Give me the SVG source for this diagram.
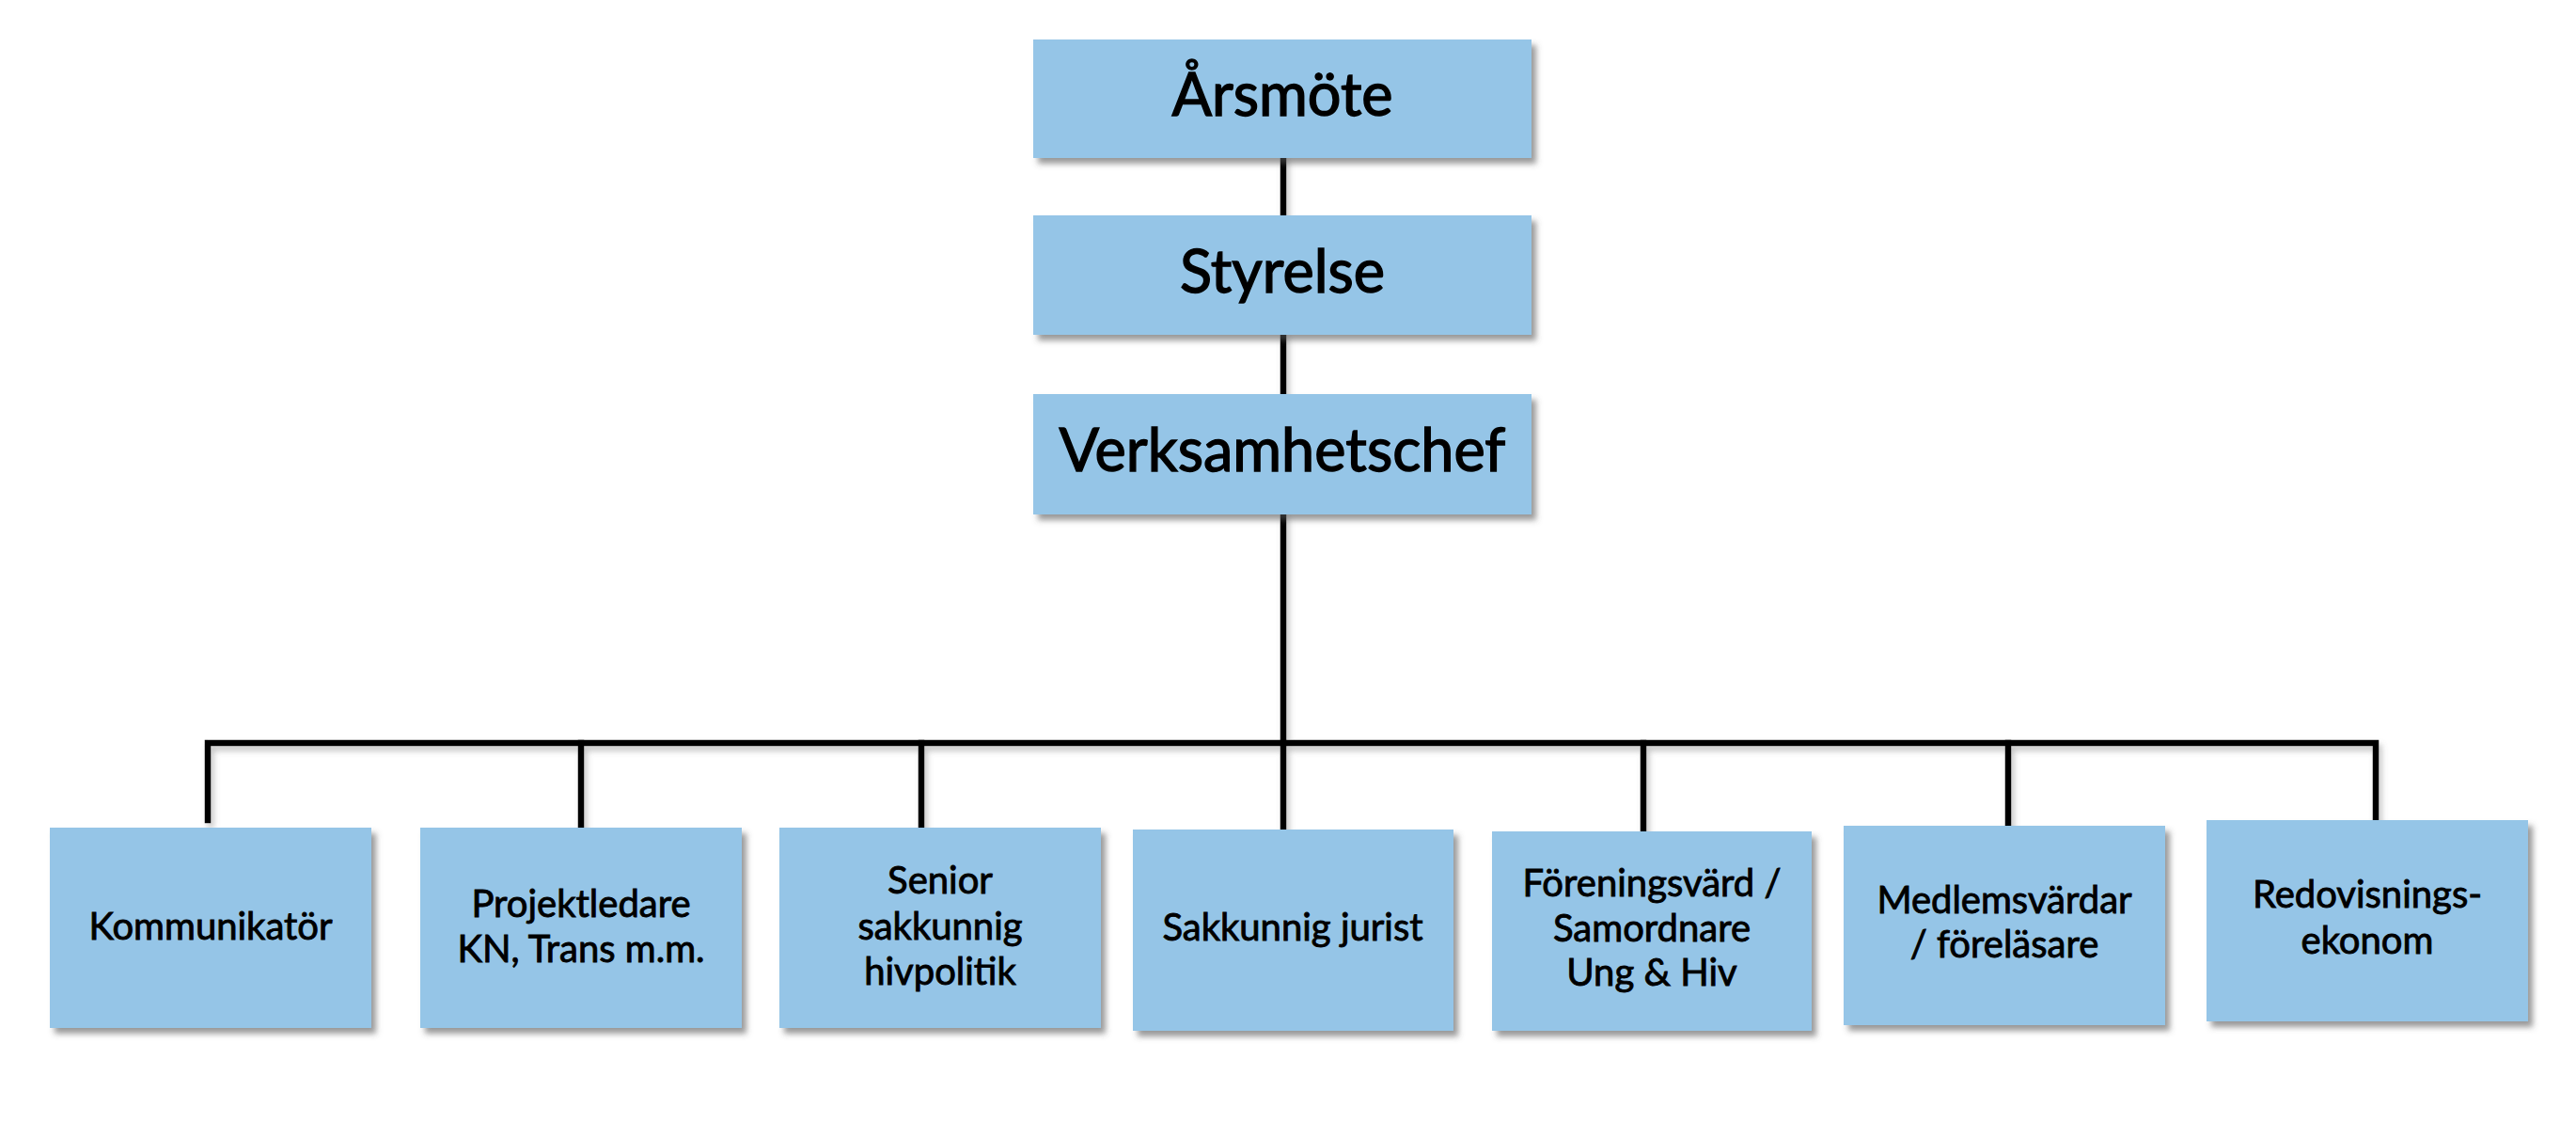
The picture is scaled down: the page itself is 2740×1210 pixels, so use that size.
<svg xmlns="http://www.w3.org/2000/svg" width="2740" height="1210" viewBox="0 0 2740 1210">
<defs>
<filter id="sh" x="-10%" y="-10%" width="130%" height="130%">
<feDropShadow dx="5" dy="6" stdDeviation="3" flood-color="#555" flood-opacity="0.6"/>
</filter>
<filter id="lsh" x="-10%" y="-10%" width="130%" height="130%">
<feDropShadow dx="3" dy="5" stdDeviation="3" flood-color="#777" flood-opacity="0.45"/>
</filter>
</defs>
<style>
.box{fill:#95C5E7;filter:url(#sh);}
.top{font-family:Lato,"Noto Sans",sans-serif;font-size:63px;fill:#000;stroke:#000;stroke-width:1.4px;text-anchor:middle;}
.sub{font-family:Lato,"Noto Sans",sans-serif;font-size:40px;fill:#000;stroke:#000;stroke-width:0.9px;text-anchor:middle;}
.ln{stroke:#000;stroke-width:6.5;fill:none;stroke-linecap:square;}
</style>
<rect width="2740" height="1210" fill="#fff"/>
<g id="connectors" filter="url(#lsh)">
<path class="ln" d="M1365 168V229M1365 356V419M1365 547V790"/>
<path class="ln" d="M221 872V790H2527V872"/>
<path class="ln" d="M618 790V880M980 790V880M1365 790V882M1748 790V884M2136 790V878"/>
</g>
<g id="n-arsmote"><rect class="box" x="1099" y="42" width="530" height="126"/><text class="top" x="1364" y="123">Årsmöte</text></g>
<g id="n-styrelse"><rect class="box" x="1099" y="229" width="530" height="127"/><text class="top" x="1364" y="311">Styrelse</text></g>
<g id="n-verksamhetschef"><rect class="box" x="1099" y="419" width="530" height="128"/><text class="top" x="1364" y="501">Verksamhetschef</text></g>
<g id="n-kommunikator"><rect class="box" x="53" y="880" width="342" height="213"/><text class="sub" x="224" y="999">Kommunikatör</text></g>
<g id="n-projektledare"><rect class="box" x="447" y="880" width="342" height="213"/><text class="sub" x="618" y="975">Projektledare</text><text class="sub" x="618" y="1023">KN, Trans m.m.</text></g>
<g id="n-senior"><rect class="box" x="829" y="880" width="342" height="213"/><text class="sub" x="1000" y="950">Senior</text><text class="sub" x="1000" y="999">sakkunnig</text><text class="sub" x="1000" y="1047">hivpolitik</text></g>
<g id="n-jurist"><rect class="box" x="1205" y="882" width="341" height="214"/><text class="sub" x="1375" y="1000">Sakkunnig jurist</text></g>
<g id="n-foreningsvard"><rect class="box" x="1587" y="884" width="340" height="212"/><text class="sub" x="1757" y="953">Föreningsvärd /</text><text class="sub" x="1757" y="1001">Samordnare</text><text class="sub" x="1757" y="1048">Ung &amp; Hiv</text></g>
<g id="n-medlemsvardar"><rect class="box" x="1961" y="878" width="342" height="212"/><text class="sub" x="2132" y="971">Medlemsvärdar</text><text class="sub" x="2132" y="1018">/ föreläsare</text></g>
<g id="n-redovisning"><rect class="box" x="2347" y="872" width="342" height="214"/><text class="sub" x="2518" y="965">Redovisnings-</text><text class="sub" x="2518" y="1014">ekonom</text></g>
</svg>
